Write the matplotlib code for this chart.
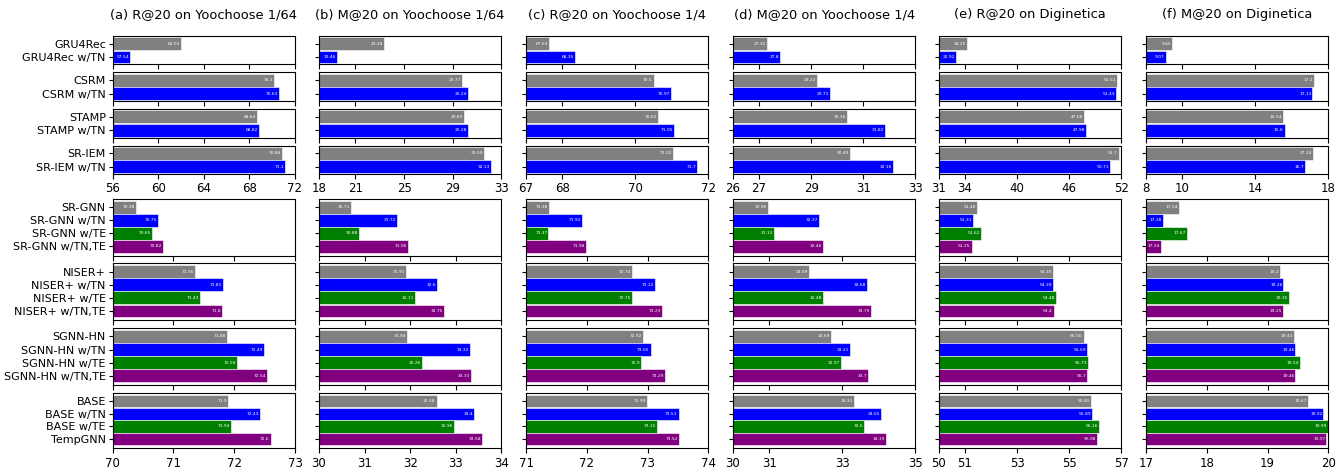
import matplotlib.pyplot as plt
import numpy as np

# labels
top_models = [["GRU4Rec", "GRU4Rec w/TN"], ["CSRM", "CSRM w/TN"],
              ["STAMP", "STAMP w/TN"], ["SR-IEM", "SR-IEM w/TN"]]
bot_models = [["SR-GNN", "SR-GNN w/TN", "SR-GNN w/TE", "SR-GNN w/TN,TE"],
              ["NISER+", "NISER+ w/TN", "NISER+ w/TE", "NISER+ w/TN,TE"],
              ["SGNN-HN", "SGNN-HN w/TN", "SGNN-HN w/TE", "SGNN-HN w/TN,TE"],
              ["BASE", "BASE w/TN", "BASE w/TE", "TempGNN"]]

titles = ["(a) R@20 on Yoochoose 1/64", "(b) M@20 on Yoochoose 1/64",
          "(c) R@20 on Yoochoose 1/4", "(d) M@20 on Yoochoose 1/4",
          "(e) R@20 on Diginetica", "(f) M@20 on Diginetica"]

# top block values (pairs), one list per panel
top_a = [[62.03, 57.54], [70.2, 70.63], [68.64, 68.82], [70.86, 71.1]]
top_b = [[23.34, 19.46], [29.77, 30.24], [29.89, 30.28], [31.59, 32.13]]
top_c = [[67.63, 68.35], [70.5, 70.97], [70.62, 71.05], [71.02, 71.7]]
top_d = [[27.32, 27.8], [29.22, 29.71], [30.36, 31.82], [30.49, 32.16]]
top_e = [[34.25, 32.92], [51.51, 51.43], [47.66, 47.98], [51.7, 50.71]]
top_f = [[9.45, 9.07], [17.2, 17.13], [15.54, 15.6], [17.14, 16.7]]

# bottom block values (quads)
bot_a = [[70.38, 70.75, 70.65, 70.82], [71.36, 71.81, 71.43, 71.8],
         [71.88, 72.49, 72.04, 72.54], [71.9, 72.43, 71.94, 72.6]]
bot_b = [[30.71, 31.72, 30.88, 31.96], [31.91, 32.6, 32.11, 32.75],
         [31.94, 33.32, 32.26, 33.33], [32.58, 33.4, 32.96, 33.58]]
bot_c = [[71.38, 71.92, 71.37, 71.98], [72.74, 73.12, 72.75, 73.23],
         [72.92, 73.05, 72.9, 73.29], [72.99, 73.51, 73.15, 73.52]]
bot_d = [[30.96, 32.37, 31.13, 32.46], [32.09, 33.68, 32.48, 33.79],
         [32.69, 33.21, 32.97, 33.7], [33.31, 34.05, 33.6, 34.19]]
bot_e = [[51.46, 51.31, 51.62, 51.25], [54.39, 54.39, 54.48, 54.4],
         [55.56, 55.69, 55.73, 55.7], [55.85, 55.89, 56.16, 56.08]]
bot_f = [[17.54, 17.28, 17.67, 17.24], [19.2, 19.26, 19.35, 19.25],
         [19.43, 19.46, 19.54, 19.46], [19.67, 19.92, 19.99, 19.97]]

top_ticks = [[56, 60, 64, 68, 72], [18, 21, 25, 29, 33], [67, 68, 70, 72],
             [26, 27, 29, 31, 33], [31, 34, 40, 46, 52], [8, 10, 14, 18]]
bot_ticks = [[70, 71, 72, 73], [30, 31, 32, 33, 34], [71, 72, 73, 74],
             [30, 31, 33, 35], [50, 51, 53, 55, 57], [17, 18, 19, 20]]

top_vals = [top_a, top_b, top_c, top_d, top_e, top_f]
bot_vals = [bot_a, bot_b, bot_c, bot_d, bot_e, bot_f]
colors = ["grey", "blue", "green", "purple"]

W, H = 1344, 467
fig = plt.figure(figsize=(W / 100, H / 100), dpi=100)

col_left = [112.7, 319, 526, 733, 939, 1146]
col_w = 182.3
top_rows = [(36, 64.3), (72.3, 101), (109, 137.7), (145.7, 174)]
bot_rows = [(199, 255.7), (263.3, 320.3), (328, 385.3), (393, 448.3)]


def make_ax(x0, y0, y1):
    return fig.add_axes([x0 / W, 1 - y1 / H, col_w / W, (y1 - y0) / H])


def draw(ax, vals, names, ticks, show_names, show_ticklabels, ylim):
    y = np.arange(len(vals))
    ax.barh(y, vals, height=0.97, color=colors[:len(vals)],
            edgecolor="white", linewidth=0.4)
    for yi, v in zip(y, vals):
        ax.text(v - (ticks[-1] - ticks[0]) * 0.005, yi, str(v), ha="right",
                va="center", fontsize=3.2, color="white")
    ax.set_xlim(ticks[0], ticks[-1])
    ax.set_xticks(ticks)
    ax.set_ylim(ylim)
    ax.set_yticks(y)
    if show_names:
        ax.set_yticklabels(names, fontsize=8)
    else:
        ax.set_yticklabels([])
    if not show_ticklabels:
        ax.set_xticklabels([])
    else:
        ax.tick_params(axis="x", labelsize=8.5, pad=2.5)
    ax.tick_params(axis="y", length=3, pad=2)


for c in range(6):
    for r in range(4):
        ax = make_ax(col_left[c], *top_rows[r])
        draw(ax, top_vals[c][r], top_models[r], top_ticks[c], c == 0, r == 3,
             (1.55, -0.575))
        if r == 0:
            ax.set_title(titles[c], fontsize=9.4, pad=13)
    for r in range(4):
        ax = make_ax(col_left[c], *bot_rows[r])
        draw(ax, bot_vals[c][r], bot_models[r], bot_ticks[c], c == 0, r == 3,
             (3.72, -0.64))

fig.savefig("out.png", dpi=100)
